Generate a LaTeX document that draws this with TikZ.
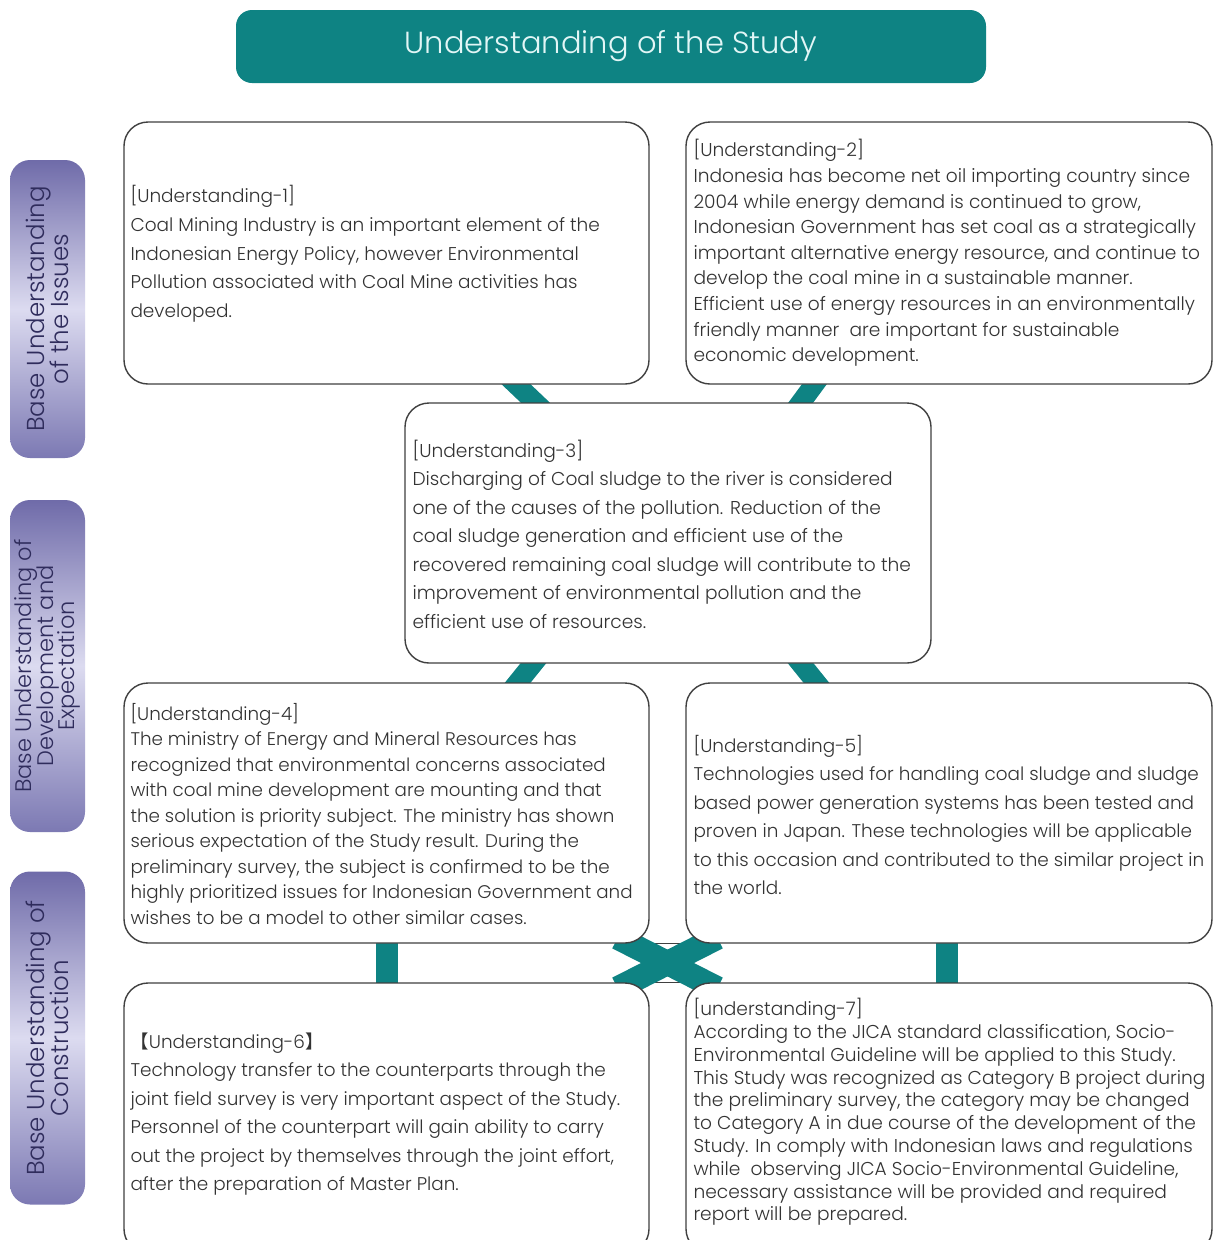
\documentclass[tikz,border=0pt]{standalone}
\usepackage{fontspec}
\setmainfont{Poppins Light}
\newfontfamily\cjk{Noto Sans CJK SC}
\usetikzlibrary{calc,backgrounds}
\definecolor{tealc}{HTML}{0E8383}
\definecolor{boxline}{HTML}{404040}
\definecolor{txtc}{HTML}{333333}
\definecolor{labA}{HTML}{6F6BA9}
\definecolor{labB}{HTML}{7C79B3}
\definecolor{labC}{HTML}{DCDBF0}
\definecolor{labT}{HTML}{2F2C5C}
\definecolor{titleT}{HTML}{E2F6F6}
\newcommand\bxfont[2]{\fontsize{#1}{#2}\selectfont\lineskiplimit=-60pt\relax}
\begin{document}
\begin{tikzpicture}[x=1pt,y=-1pt,
  box/.style={draw=boxline, line width=1.4pt, rounded corners=24pt, fill=white, inner sep=0pt},
  txt/.style={anchor=west, align=left, inner sep=0pt, text=txtc},
  lbl/.style={rotate=90, rounded corners=20pt, top color=labA, bottom color=labB, middle color=labC, inner sep=0pt, align=center, text=labT},
  link/.style={draw=tealc, line width=20pt, line cap=butt, shorten <=-12pt, shorten >=-12pt},
  sep/.style={draw=boxline, line width=1.4pt},
]
\useasboundingbox (0,0) rectangle (1214,1240);
\clip (0,0) rectangle (1214,1240);

% title
\node[fill=tealc, rounded corners=16pt, minimum width=750, minimum height=73, inner sep=0pt, text=titleT, font=\bxfont{30.5}{31}] (T) at (611,46.5) {Understanding of the Study};

% side labels
\node[lbl, minimum width=298, minimum height=75, font=\bxfont{24.5}{24}] (L1) at (47.5,309) {Base Understanding\\of the Issues};
\node[lbl, minimum width=332, minimum height=75, font=\bxfont{22.5}{21.5}] (L2) at (47.5,666) {Base Understanding of\\Development and\\Expectation};
\node[lbl, minimum width=333, minimum height=75, font=\bxfont{24.5}{24}] (L3) at (47.5,1038) {Base Understanding of\\Construction};

% boxes
\node[box, minimum width=525, minimum height=262] (b1) at (386.5,253) {};
\node[box, minimum width=526, minimum height=262] (b2) at (949,253) {};
\node[box, minimum width=526, minimum height=260] (b3) at (668,533) {};
\node[box, minimum width=525, minimum height=260] (b4) at (386.5,813) {};
\node[box, minimum width=526, minimum height=260] (b5) at (949,813) {};
\node[box, minimum width=525, minimum height=270] (b6) at (386.5,1118) {};
\node[box, minimum width=526, minimum height=270] (b7) at (949,1118) {};

% texts
\node[txt, font=\bxfont{18.5}{28.7}] (t1) at ($(b1.west)+(7,1)$) {[Understanding-1]\\
Coal Mining Industry is an important element of the\\
Indonesian Energy Policy, however Environmental\\
Pollution associated with Coal Mine activities has\\
developed.};

\node[txt, font=\bxfont{18.6}{25.6}] (t2) at ($(b2.west)+(8,0)$) {[Understanding-2]\\
Indonesia has become net oil importing country since\\
2004 while energy demand is continued to grow,\\
Indonesian Government has set coal as a strategically\\
important alternative energy resource, and continue to\\
develop the coal mine in a sustainable manner.\\
Efficient use of energy resources in an environmentally\\
friendly manner~ are important for sustainable\\
economic development.};

\node[txt, font=\bxfont{18.6}{28.5}] (t3) at ($(b3.west)+(8,1)$) {[Understanding-3]\\
Discharging of Coal sludge to the river is considered\\
one of the causes of the pollution. Reduction of the\\
coal sludge generation and efficient use of the\\
recovered remaining coal sludge will contribute to the\\
improvement of environmental pollution and the\\
efficient use of resources.};

\node[txt, font=\bxfont{18.3}{25.5}] (t4) at ($(b4.west)+(7,1)$) {[Understanding-4]\\
The ministry of Energy and Mineral Resources has\\
recognized that environmental concerns associated\\
with coal mine development are mounting and that\\
the solution is priority subject. The ministry has shown\\
serious expectation of the Study result. During the\\
preliminary survey, the subject is confirmed to be the\\
highly prioritized issues for Indonesian Government and\\
wishes to be a model to other similar cases.};

\node[txt, font=\bxfont{18.4}{28.4}] (t5) at ($(b5.west)+(8,2)$) {[Understanding-5]\\
Technologies used for handling coal sludge and sludge\\
based power generation systems has been tested and\\
proven in Japan. These technologies will be applicable\\
to this occasion and contributed to the similar project in\\
the world.};

\node[txt, font=\bxfont{18.4}{28.4}] (t6) at ($(b6.west)+(7,-4)$) {{\cjk 【}Understanding-6{\cjk 】}\\
Technology transfer to the counterparts through the\\
joint field survey is very important aspect of the Study.\\
Personnel of the counterpart will gain ability to carry\\
out the project by themselves through the joint effort,\\
after the preparation of Master Plan.};

\node[txt, font=\bxfont{18.6}{22.8}] (t7) at ($(b7.west)+(8,-6)$) {[understanding-7]\\
According to the JICA standard classification, Socio-\\
Environmental Guideline will be applied to this Study.\\
This Study was recognized as Category B project during\\
the preliminary survey, the category may be changed\\
to Category A in due course of the development of the\\
Study. In comply with Indonesian laws and regulations\\
while~ observing JICA Socio-Environmental Guideline,\\
necessary assistance will be provided and required\\
report will be prepared.};

% connectors behind the boxes
\begin{pgfonlayer}{background}
\fill[white] (0,0) rectangle (1214,1240);
\draw[sep] ($(b4.south east)+(-30,0)$) -- ($(b5.south west)+(30,0)$);
\draw[sep] ($(b6.north east)+(-30,0)$) -- ($(b7.north west)+(30,0)$);
\draw[link] ($(b1.south)+(130,0)$) -- ($(b3.north)+(-133,0)$);
\draw[link] ($(b2.south)+(-135,0)$) -- ($(b3.north)+(133,0)$);
\draw[link] ($(b3.south)+(-135,0)$) -- ($(b4.north)+(131.5,0)$);
\draw[link] ($(b3.south)+(133,0)$) -- ($(b5.north)+(-133,0)$);
\draw[link, line width=22pt] (b4.south) -- (b6.north);
\draw[link, line width=22pt] ($(b5.south)+(-2,0)$) -- ($(b7.north)+(-2,0)$);
\draw[link, line width=24pt, shorten <=0pt, shorten >=0pt] ($(b4.south east)+(-32,-6)$) -- ($(b7.north west)+(32,6)$);
\draw[link, line width=24pt, shorten <=0pt, shorten >=0pt] ($(b5.south west)+(32,-6)$) -- ($(b6.north east)+(-32,6)$);
\end{pgfonlayer}
\end{tikzpicture}
\end{document}
